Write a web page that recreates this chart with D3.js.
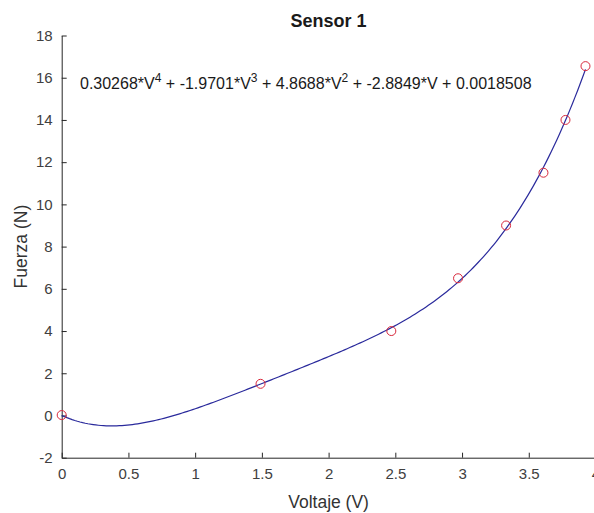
<!DOCTYPE html>
<html>
<head>
<meta charset="utf-8">
<script src="https://cdn.jsdelivr.net/npm/d3@7"></script>
<style>
  html, body { margin: 0; padding: 0; background: #fff; overflow: hidden; }
  text { font-family: "Liberation Sans", Arial, Helvetica, sans-serif; }
</style>
</head>
<body>
<div id="chart"></div>
<script>
// measured points
const voltaje = [0, 1.49, 2.47, 2.97, 3.33, 3.61, 3.775, 3.925];
const fuerza = [0.02, 1.5, 4.0, 6.5, 9.0, 11.5, 14.0, 16.55];

// fitted polynomial coefficients, highest power first (as printed on the chart)
const coefs = [0.30268, -1.9701, 4.8688, -2.8849, 0.0018508];
const fitRange = [0, 3.925];

const xTicks = [0, 0.5, 1, 1.5, 2, 2.5, 3, 3.5, 4];
const yTicks = [-2, 0, 2, 4, 6, 8, 10, 12, 14, 16, 18];

const W = 594, H = 513;
const margin = { top: 35.5, right: -1.5, bottom: 55.3, left: 61.7 },
    width = W - margin.left - margin.right,
    height = H - margin.top - margin.bottom;

const svg = d3.select("#chart")
    .append("svg")
    .attr("width", W)
    .attr("height", H);

const g = svg.append("g")
    .attr("transform", `translate(${margin.left},${margin.top})`);

const x = d3.scaleLinear().domain([0, 4]).range([0, width]);
const y = d3.scaleLinear().domain([-2, 18]).range([height, 0]);

const axisColor = "#262626";
const fmt = d => String(d);

// x axis (ticks pointing inward)
const xAxis = g.append("g")
    .attr("transform", `translate(0,${height})`)
    .call(d3.axisBottom(x).tickValues(xTicks).tickSizeInner(-5).tickSizeOuter(0).tickPadding(11)
        .tickFormat(fmt));
xAxis.select(".domain").attr("stroke", axisColor);
xAxis.selectAll(".tick line").attr("stroke", axisColor);
xAxis.selectAll(".tick text").attr("fill", "#404040").style("font-size", "15px");

// y axis
const yAxis = g.append("g")
    .call(d3.axisLeft(y).tickValues(yTicks).tickSizeInner(-5).tickSizeOuter(0).tickPadding(9)
        .tickFormat(fmt));
yAxis.select(".domain").attr("stroke", axisColor);
yAxis.selectAll(".tick line").attr("stroke", axisColor);
yAxis.selectAll(".tick text").attr("fill", "#404040").style("font-size", "15px");

// fitted curve
const poly = v => coefs.reduce((acc, c) => acc * v + c, 0);
const curveData = d3.range(0, 201).map(i => {
    const v = fitRange[0] + (fitRange[1] - fitRange[0]) * i / 200;
    return [v, poly(v)];
});

g.append("path")
    .datum(curveData)
    .attr("fill", "none")
    .attr("stroke", "#2a2a9c")
    .attr("stroke-width", 1.2)
    .attr("d", d3.line().x(d => x(d[0])).y(d => y(d[1])));

// data markers
g.selectAll(".pt")
    .data(voltaje.map((v, i) => [v, fuerza[i]]))
    .enter().append("circle")
    .attr("class", "pt")
    .attr("cx", d => x(d[0]))
    .attr("cy", d => y(d[1]))
    .attr("r", 4.5)
    .attr("fill", "none")
    .attr("stroke", "#d8283c")
    .attr("stroke-width", 1);

// equation text
const eq = g.append("text")
    .attr("x", x(0.137))
    .attr("y", y(15.75))
    .attr("dy", "0.35em")
    .attr("fill", "#1a1a1a")
    .style("font-size", "16px");
const parts = [
    ["0.30268*V", "4"], [" + -1.9701*V", "3"], [" + 4.8688*V", "2"],
    [" + -2.8849*V + 0.0018508", null]
];
parts.forEach(p => {
    eq.append("tspan").text(p[0]);
    if (p[1]) {
        eq.append("tspan").attr("baseline-shift", "super").style("font-size", "12px").text(p[1]);
    }
});

// title and labels
svg.append("text")
    .attr("x", margin.left + x(2))
    .attr("y", 27)
    .attr("text-anchor", "middle")
    .attr("fill", "#1a1a1a")
    .style("font-size", "18px")
    .style("font-weight", "bold")
    .text("Sensor 1");

svg.append("text")
    .attr("x", margin.left + x(2))
    .attr("y", 508)
    .attr("text-anchor", "middle")
    .attr("fill", "#333")
    .style("font-size", "17.5px")
    .text("Voltaje (V)");

svg.append("text")
    .attr("transform", `translate(27,${margin.top + y(8)}) rotate(-90)`)
    .attr("text-anchor", "middle")
    .attr("fill", "#333")
    .style("font-size", "17.5px")
    .text("Fuerza (N)");
</script>
</body>
</html>
